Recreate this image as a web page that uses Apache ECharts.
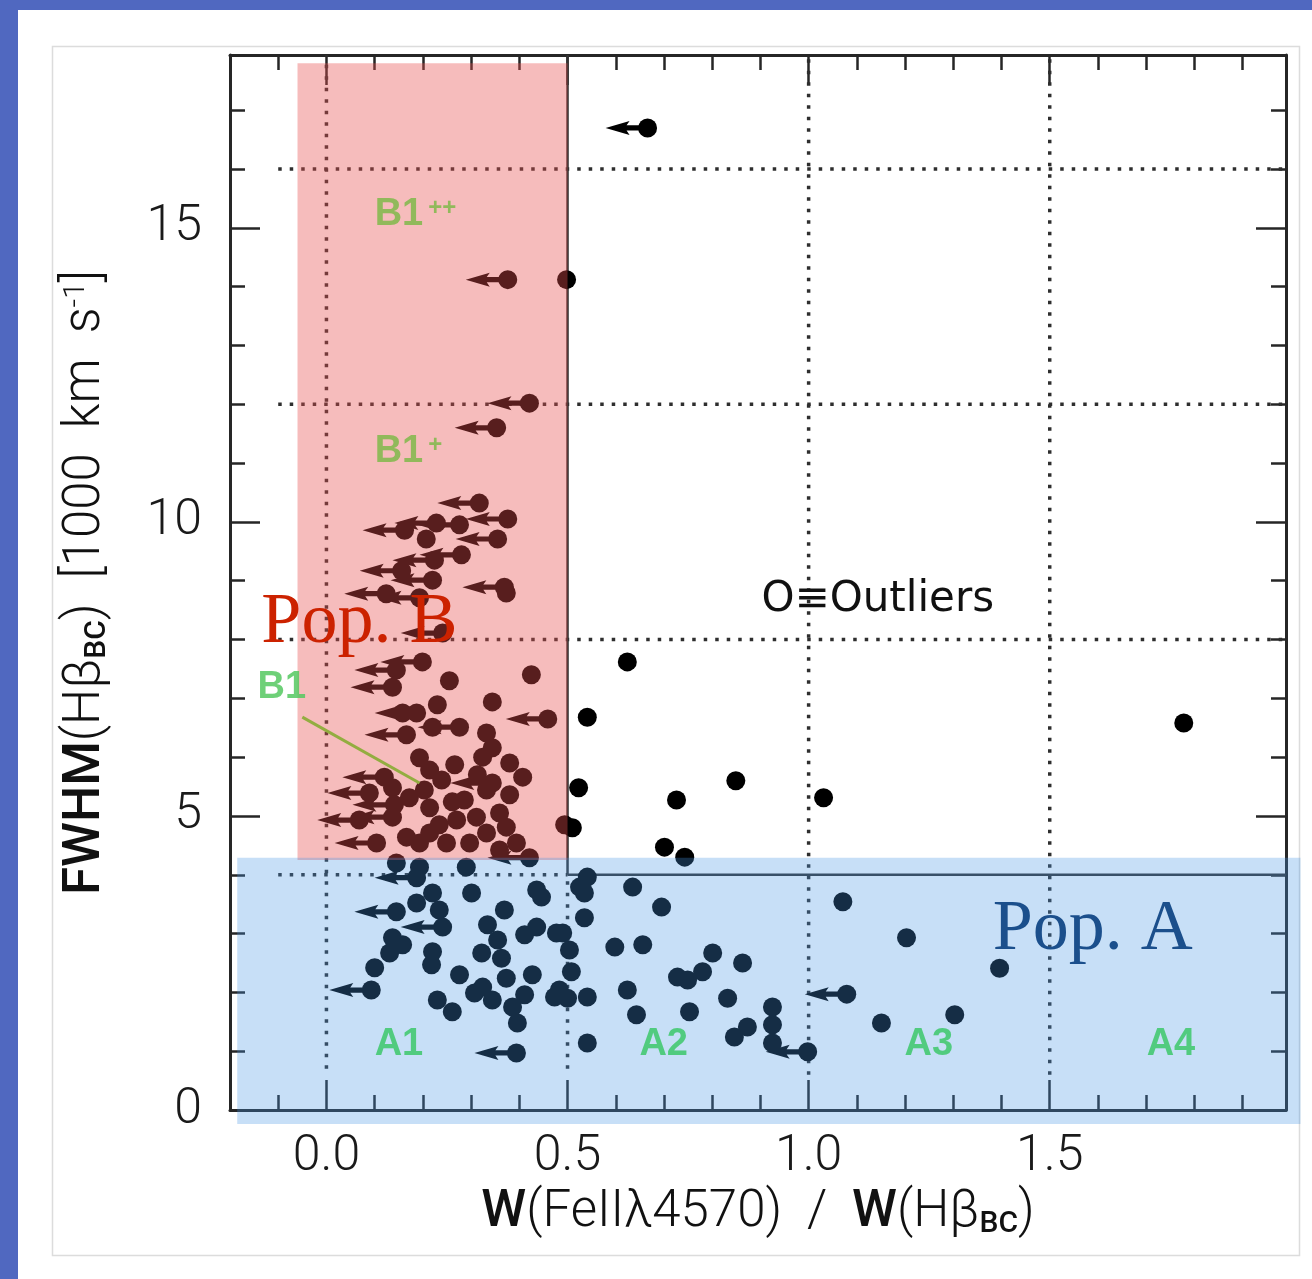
<!DOCTYPE html>
<html><head><meta charset="utf-8">
<script src="https://cdn.jsdelivr.net/npm/echarts@6/dist/echarts.min.js"></script>
<style>html,body{margin:0;padding:0;background:#fff}#c{width:1312px;height:1279px}</style>
</head><body><div id="c"></div>
<script>
// ---------------- data ----------------
const xTickValues = [0, 0.5, 1.0, 1.5];
const yTickValues = [0, 5, 10, 15];

// upper limits (points with left-pointing arrows)
const outlierLimits = [[0.666, 16.70]];
const popBLimits = [
  [0.376,14.12],[0.421,12.02],[0.353,11.60],[0.317,10.32],[0.376,10.05],[0.276,9.95],
  [0.228,9.98],[0.162,9.86],[0.355,9.71],[0.280,9.44],[0.224,9.35],[0.156,9.17],
  [0.220,9.01],[0.369,8.89],[0.124,8.78],[0.193,8.71],[0.241,8.11],[0.199,7.62],
  [0.145,7.48],[0.137,7.19],[0.459,6.65],[0.187,6.75],[0.166,6.38],[0.276,6.51],
  [0.344,5.56],[0.120,5.66],[0.089,5.39],[0.137,4.98],[0.104,4.54],[0.421,4.29],
  [0.141,5.19],[0.068,4.93]
];
const popALimits = [
  [0.187,3.95],[0.145,3.37],[0.241,3.11],[0.093,2.04],[0.394,0.97],[1.079,1.97],[0.998,0.99]
];

// detections (plain dots)
const popBDetections = [
  [0.498,14.12],[0.425,7.40],[0.255,7.30],[0.344,6.94],[0.230,6.89],[0.158,6.75],
  [0.220,6.51],[0.332,6.41],[0.344,6.16],[0.324,6.00],[0.193,5.99],[0.214,5.78],
  [0.239,5.61],[0.380,5.90],[0.407,5.66],[0.332,5.44],[0.137,5.48],[0.172,5.31],
  [0.214,5.14],[0.261,5.24],[0.270,4.93],[0.311,4.98],[0.359,5.05],[0.373,4.81],
  [0.332,4.71],[0.166,4.64],[0.193,4.54],[0.249,4.54],[0.297,4.54],[0.394,4.54],
  [0.214,4.71],[0.373,8.79],[0.207,9.71],[0.145,4.20],[0.193,4.13],[0.290,4.13],
  [0.234,4.85],[0.286,5.27],[0.359,4.42],[0.203,5.44],[0.266,5.87],[0.313,5.70],[0.380,5.36]
];
const outlierDetections = [
  [0.624,7.62],[0.541,6.68],[0.523,5.48],[0.726,5.27],[0.849,5.60],[1.031,5.31],
  [0.510,4.80],[0.494,4.85],[0.701,4.47],[0.743,4.30],[1.778,6.58]
];
const popADetections = [
  [0.541,3.96],[0.525,3.79],[0.535,3.69],[0.635,3.79],[0.695,3.45],[1.071,3.54],
  [0.535,3.27],[0.490,3.01],[0.504,2.72],[0.598,2.77],[0.656,2.81],[0.801,2.67],
  [0.863,2.50],[1.203,2.93],[1.396,2.41],[0.508,2.35],[0.728,2.26],[0.749,2.21],
  [0.780,2.35],[0.483,2.04],[0.473,1.92],[0.500,1.90],[0.541,1.92],[0.624,2.04],
  [0.832,1.90],[0.643,1.62],[0.753,1.67],[0.925,1.75],[0.925,1.45],[0.873,1.41],
  [0.846,1.24],[0.925,1.14],[0.541,1.14],[1.151,1.48],[1.303,1.62],
  [0.301,3.69],[0.436,3.74],[0.446,3.62],[0.220,3.69],[0.187,3.52],[0.234,3.40],
  [0.369,3.40],[0.334,3.15],[0.436,3.11],[0.411,2.98],[0.477,3.01],[0.355,2.89],
  [0.137,2.93],[0.158,2.81],[0.220,2.69],[0.322,2.67],[0.363,2.58],[0.131,2.67],
  [0.218,2.47],[0.100,2.42],[0.276,2.30],[0.373,2.24],[0.427,2.30],[0.324,2.09],
  [0.307,1.99],[0.344,1.87],[0.411,1.96],[0.386,1.75],[0.230,1.87],[0.261,1.67],
  [0.396,1.48]
];

// population boxes [x1, y1, x2, y2]
const popBBox = [[-0.06, 17.8, 0.5, 4.25]];
const popABox = [[-0.185, 4.29, 2.02, -0.24]];

// guide lines
const dottedGuides = [
  [[-0.1,4],[0.5,4]], [[-0.1,8],[1.99,8]], [[-0.1,12],[1.99,12]], [[-0.1,16],[1.99,16]],
  [[0,0.7],[0,17.94]], [[0.5,0.7],[0.5,4]], [[1.0,0.6],[1.0,17.94]], [[1.5,0.6],[1.5,17.94]]
];
const solidGuides = [ [[0.5,4],[0.5,17.94]], [[0.5,4],[1.99,4]] ];
const pointerLine = [[-0.05,6.68],[0.193,5.56]];

// annotation texts [x, y, text, colour]
const classLabels = [
  [0.10,15.22,'{m|B1}{s|++}','#7fb84a'],
  [0.10,11.19,'{m|B1}{s|+}','#7fb84a'],
  [-0.143,7.18,'{m|B1}','#55c860'],
  [0.10,1.11,'{m|A1}','#3cc86a'],
  [0.649,1.11,'{m|A2}','#3cc86a'],
  [1.199,1.11,'{m|A3}','#3cc86a'],
  [1.701,1.11,'{m|A4}','#3cc86a']
];
const popLabels = [
  [-0.135, 8.28, 'Pop. B', '#cc2200'],
  [1.382, 3.06, 'Pop. A', '#1b4f8c']
];
const outlierLabel = [[0.902, 8.67, 'O\u2261Outliers', '#111']];

// ---------------- chart ----------------
const X_MIN = -0.2, X_MAX = 1.99, Y_MIN = 0, Y_MAX = 17.94;
const AX = '#262626';
const FONT = 'Roboto, "Liberation Sans", sans-serif';
const tickFont = {fontSize: 50, fontFamily: FONT, fontWeight: 300, color: '#1a1a1a'};

function makeAxis(isX, pos, major, withLabels) {
  const a = {
    type: 'value', position: pos,
    min: isX ? X_MIN : Y_MIN, max: isX ? X_MAX : Y_MAX, interval: isX ? 0.1 : 1,
    splitLine: {show: false},
    axisLine: {show: !major, onZero: false, lineStyle: {color: AX, width: 3}},
    axisTick: {show: true, inside: true, length: major ? 30 : 15, lineStyle: {color: AX, width: 2.5}},
    axisLabel: {show: false},
    silent: true
  };
  if (major) a.axisTick.customValues = isX ? xTickValues : yTickValues;
  if (withLabels) {
    a.axisLabel = Object.assign({
      show: true, customValues: isX ? xTickValues : yTickValues,
      margin: isX ? 22 : 28,
      formatter: v => isX ? Number(v).toFixed(1) : String(Math.round(v))
    }, tickFont);
  }
  return a;
}

const xAxes = [makeAxis(true,'bottom',false,true), makeAxis(true,'bottom',true,false),
               makeAxis(true,'top',false,false), makeAxis(true,'top',true,false)];
const yAxes = [makeAxis(false,'left',false,true), makeAxis(false,'left',true,false),
               makeAxis(false,'right',false,false), makeAxis(false,'right',true,false)];

const nameRich = {
  b: {fontSize: 51, fontFamily: FONT, fontWeight: 500, color: '#111'},
  sub: {fontSize: 30, fontFamily: FONT, fontWeight: 500, color: '#111', verticalAlign: 'bottom'},
  sup: {fontSize: 30, fontFamily: FONT, fontWeight: 300, color: '#111', verticalAlign: 'top'}
};
xAxes[0].name = '{b|W}(FeII\u03bb4570)  /  {b|W}(H\u03b2{sub|BC})';
xAxes[0].nameLocation = 'middle';
xAxes[0].nameGap = 78;
xAxes[0].nameTextStyle = {fontSize: 51, fontFamily: FONT, fontWeight: 300, color: '#111', rich: nameRich};
yAxes[0].name = '{b|FWHM}(H\u03b2{sub|BC})  [1000  km  s{sup|-1}]';
yAxes[0].nameLocation = 'middle';
yAxes[0].nameRotate = 90;
yAxes[0].nameGap = 118;
yAxes[0].nameTextStyle = {fontSize: 51, fontFamily: FONT, fontWeight: 300, color: '#111', rich: nameRich};

function arrowItem(params, api) {
  const p = api.coord([api.value(0), api.value(1)]);
  const x = p[0], y = p[1];
  return {type: 'group', children: [
    {type: 'polygon', shape: {points: [[x-42,y],[x-18,y-7],[x-21,y-2.6],[x,y-2.6],[x,y+2.6],[x-21,y+2.6],[x-18,y+7]]}, style: {fill: '#000'}},
    {type: 'circle', shape: {cx: x, cy: y, r: 9.5}, style: {fill: '#000'}}
  ]};
}
function boxItem(color) {
  return function (params, api) {
    const p1 = api.coord([api.value(0), api.value(1)]);
    const p2 = api.coord([api.value(2), api.value(3)]);
    return {type: 'rect', shape: {x: p1[0], y: p1[1], width: p2[0]-p1[0], height: p2[1]-p1[1]}, style: {fill: color}};
  };
}
function textSeries(list, font, z) {
  return {type: 'custom', data: list.map(d => [d[0], d[1]]), silent: true, z: z,
    renderItem: function (params, api) {
      const d = list[params.dataIndex];
      const p = api.coord([api.value(0), api.value(1)]);
      return {type: 'text', x: p[0], y: p[1], style: {text: d[2], fill: d[3], font: font, align: 'left', verticalAlign: 'middle'}};
    }};
}

const series = [];
dottedGuides.forEach(seg => series.push({type: 'line', data: seg, showSymbol: false, silent: true, z: 1,
  lineStyle: {color: '#2e2e2e', width: 3.5, type: [3.5, 8]}}));
solidGuides.forEach(seg => series.push({type: 'line', data: seg, showSymbol: false, silent: true, z: 1,
  lineStyle: {color: '#333', width: 2.5}}));
[popBDetections, outlierDetections, popADetections].forEach(d => series.push({
  type: 'scatter', data: d, symbol: 'circle', symbolSize: 19, itemStyle: {color: '#000', opacity: 1}, z: 3, silent: true}));
[outlierLimits, popBLimits, popALimits].forEach(d => series.push({
  type: 'custom', data: d, renderItem: arrowItem, z: 3, silent: true}));
series.push({type: 'custom', data: popBBox, renderItem: boxItem('rgba(232,80,80,0.38)'), z: 5, silent: true});
series.push({type: 'custom', data: popABox, renderItem: boxItem('rgba(70,150,230,0.30)'), z: 5, silent: true});
series.push({type: 'line', data: pointerLine, showSymbol: false, silent: true, z: 6,
  lineStyle: {color: '#93ad40', width: 3}});
series.push({type: 'custom', data: classLabels.map(d => [d[0], d[1]]), silent: true, z: 6,
  renderItem: function (params, api) {
    const d = classLabels[params.dataIndex];
    const p = api.coord([api.value(0), api.value(1)]);
    const rich = {
      m: {fill: d[3], fontSize: 38, fontFamily: '"Liberation Sans", sans-serif', fontWeight: 'bold', verticalAlign: 'bottom'},
      s: {fill: d[3], fontSize: 24, fontFamily: '"Liberation Sans", sans-serif', fontWeight: 'bold', verticalAlign: 'top', padding: [0, 0, 0, 5]}
    };
    return {type: 'text', x: p[0], y: p[1], style: {text: d[2], rich: rich, fill: d[3], align: 'left', verticalAlign: 'middle', opacity: 0.85}};
  }});
series.push(textSeries(popLabels, '72px "Liberation Serif", serif', 7));
series.push(textSeries(outlierLabel, '42px "DejaVu Sans", sans-serif', 7));

const chart = echarts.init(document.getElementById('c'), null, {renderer: 'canvas'});
chart.setOption({
  animation: false,
  backgroundColor: '#ffffff',
  graphic: [
    {type: 'rect', left: 0, top: 0, shape: {width: 18, height: 1279}, style: {fill: '#5068c0'}, z: 10},
    {type: 'rect', left: 0, top: 0, shape: {width: 1312, height: 10}, style: {fill: '#5068c0'}, z: 10},
    {type: 'rect', left: 50, top: 44, shape: {width: 1247, height: 1209}, style: {fill: 'none', stroke: '#dcdcdc', lineWidth: 1.5}, z: -1}
  ],
  grid: {left: 230, top: 55, right: 26, bottom: 169, containLabel: false},
  xAxis: xAxes,
  yAxis: yAxes,
  series: series
});
</script></body></html>
